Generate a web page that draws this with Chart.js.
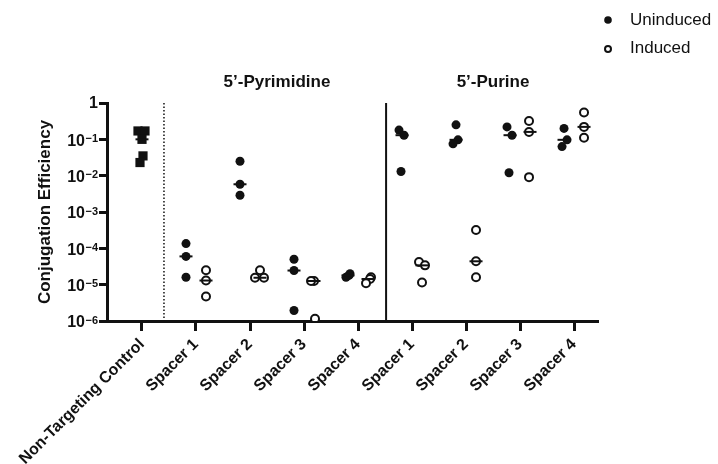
<!DOCTYPE html>
<html>
<head>
<meta charset="utf-8">
<script src="https://cdn.jsdelivr.net/npm/chart.js@4.4.1/dist/chart.umd.min.js"></script>
<style>
  html, body { margin: 0; padding: 0; background: #fff; }
  #wrap { width: 718px; height: 464px; position: relative; }
</style>
</head>
<body>
<div id="wrap"><canvas id="chart"></canvas></div>
<script>
// ============================================
// DATA
// ============================================
const categories = ['Non-Targeting Control', 'Spacer 1', 'Spacer 2', 'Spacer 3', 'Spacer 4',
                    'Spacer 1', 'Spacer 2', 'Spacer 3', 'Spacer 4'];
const groupTitles = ['5’-Pyrimidine', '5’-Purine'];
const seriesNames = ['Uninduced', 'Induced'];
const yTickExponents = [0, -1, -2, -3, -4, -5, -6];
const yTitle = 'Conjugation Efficiency';

// non-targeting control replicates
const controlValues = [0.17, 0.17, 0.1, 0.035, 0.023];

// spacers (5'-pyrimidine 1-4, then 5'-purine 1-4), three replicates each
const uninducedValues = [
    [1.35e-4, 6.0e-5, 1.6e-5],
    [0.025, 5.8e-3, 2.9e-3],
    [5.0e-5, 2.45e-5, 1.95e-6],
    [2.0e-5, 1.8e-5, 1.6e-5],
    [0.18, 0.13, 0.013],
    [0.25, 0.097, 0.075],
    [0.22, 0.13, 0.012],
    [0.2, 0.097, 0.063]
];
const inducedValues = [
    [2.5e-5, 1.3e-5, 4.7e-6],
    [2.5e-5, 1.55e-5, 1.55e-5],
    [1.26e-5, 1.26e-5, 1.15e-6],
    [1.6e-5, 1.43e-5, 1.1e-5],
    [4.2e-5, 3.4e-5, 1.15e-5],
    [3.2e-4, 4.4e-5, 1.6e-5],
    [0.32, 0.16, 0.0091],
    [0.55, 0.22, 0.11]
];

// ============================================
// LAYOUT (px offsets of points inside a column)
// ============================================
const PX_PER_CAT = 54;
const controlJitter = [-4, 3, 0, 1, -2];
const uninducedJitter = [
    [-10, -10, -10], [-10, -10, -10], [-10, -10, -10], [-8, -9, -12],
    [-13, -8, -11], [-10, -8, -13], [-13, -8, -11], [-10, -7, -12]
];
const inducedJitter = [
    [10, 10, 10], [10, 5, 14], [10, 7, 11], [13, 12, 8],
    [7, 13, 10], [10, 10, 10], [9, 9, 9], [10, 10, 10]
];
const MEDIAN_OFFSET = 10;
const X_MIN = -0.648, X_MAX = 8.444;
const DOTTED_AT = 0.407, SOLID_AT = 4.52;

const ink = '#111';
const fontFamily = '"Liberation Sans", Arial, Helvetica, sans-serif';
Chart.defaults.font.family = fontFamily;
Chart.defaults.color = ink;

const toX = (cat, px) => cat + px / PX_PER_CAT;
const median = arr => [...arr].sort((a, b) => a - b)[Math.floor(arr.length / 2)];

const controlPoints = controlValues.map((v, i) => ({ x: toX(0, controlJitter[i]), y: v }));
const uninducedPoints = [];
const inducedPoints = [];
const medianPoints = [{ x: 0, y: median(controlValues) }];
uninducedValues.forEach((reps, i) => {
    reps.forEach((v, j) => uninducedPoints.push({ x: toX(i + 1, uninducedJitter[i][j]), y: v }));
    medianPoints.push({ x: toX(i + 1, -MEDIAN_OFFSET), y: median(reps) });
});
inducedValues.forEach((reps, i) => {
    reps.forEach((v, j) => inducedPoints.push({ x: toX(i + 1, inducedJitter[i][j]), y: v }));
    medianPoints.push({ x: toX(i + 1, MEDIAN_OFFSET), y: median(reps) });
});

// titles, legend and superscript tick labels
const extras = {
    id: 'extras',
    afterDraw(chart) {
        const { ctx, scales: { x, y } } = chart;
        ctx.save();
        ctx.fillStyle = ink;
        ctx.strokeStyle = ink;

        const right = y.right - 9;
        yTickExponents.forEach(e => {
            const py = y.getPixelForValue(Math.pow(10, e));
            ctx.textAlign = 'right';
            if (e === 0) {
                ctx.font = 'bold 16px ' + fontFamily;
                ctx.textBaseline = 'middle';
                ctx.fillText('1', right, py + 1);
                return;
            }
            const exp = '−' + (-e);
            ctx.font = 'bold 11px ' + fontFamily;
            ctx.textBaseline = 'alphabetic';
            ctx.fillText(exp, right, py + 2.5);
            const w = ctx.measureText(exp).width;
            ctx.font = 'bold 16px ' + fontFamily;
            ctx.textBaseline = 'middle';
            ctx.fillText('10', right - w - 0.5, py + 2);
        });

        ctx.font = 'bold 17px ' + fontFamily;
        ctx.textAlign = 'center';
        ctx.textBaseline = 'middle';
        ctx.fillText(groupTitles[0], x.getPixelForValue(2.5), 82);
        ctx.fillText(groupTitles[1], x.getPixelForValue(6.5), 82);

        // legend
        ctx.font = '17px ' + fontFamily;
        ctx.textAlign = 'left';
        ctx.beginPath();
        ctx.arc(608, 20, 3.8, 0, Math.PI * 2);
        ctx.fill();
        ctx.fillText(seriesNames[0], 630, 20);
        ctx.beginPath();
        ctx.lineWidth = 2;
        ctx.arc(608, 49, 3, 0, Math.PI * 2);
        ctx.stroke();
        ctx.fillText(seriesNames[1], 630, 48.5);
        ctx.restore();
    }
};

new Chart(document.getElementById('chart'), {
    type: 'scatter',
    data: {
        datasets: [
            {
                label: 'Median',
                data: medianPoints,
                pointStyle: 'line',
                pointRadius: 6.5,
                borderColor: ink,
                borderWidth: 2,
                backgroundColor: ink
            },
            {
                label: seriesNames[0],
                data: uninducedPoints,
                pointStyle: 'circle',
                pointRadius: 4.5,
                backgroundColor: ink,
                borderColor: ink,
                borderWidth: 0
            },
            {
                label: seriesNames[1],
                data: inducedPoints,
                pointStyle: 'circle',
                pointRadius: 4,
                backgroundColor: '#fff',
                borderColor: ink,
                borderWidth: 2
            },
            {
                label: 'Control',
                data: controlPoints,
                pointStyle: 'rect',
                pointRadius: 6.5,
                backgroundColor: ink,
                borderColor: ink,
                borderWidth: 0
            },
            {
                label: 'divider-dotted',
                data: [{ x: DOTTED_AT, y: 1 }, { x: DOTTED_AT, y: 1e-6 }],
                showLine: true,
                pointRadius: 0,
                borderColor: ink,
                borderWidth: 1.5,
                borderDash: [1.5, 2]
            },
            {
                label: 'divider-solid',
                data: [{ x: SOLID_AT, y: 1 }, { x: SOLID_AT, y: 1e-6 }],
                showLine: true,
                pointRadius: 0,
                borderColor: ink,
                borderWidth: 2
            }
        ]
    },
    options: {
        responsive: true,
        maintainAspectRatio: false,
        animation: false,
        layout: { padding: { left: 0, right: 120, top: 103, bottom: 0 } },
        plugins: {
            legend: { display: false },
            tooltip: { enabled: false }
        },
        scales: {
            x: {
                type: 'linear',
                min: X_MIN,
                max: X_MAX,
                afterBuildTicks: s => { s.ticks = categories.map((c, i) => ({ value: i })); },
                afterFit: s => { s.height = 143; },
                ticks: {
                    autoSkip: false,
                    minRotation: 45,
                    maxRotation: 45,
                    padding: 4,
                    color: ink,
                    font: { size: 16, weight: 'bold' },
                    callback: v => categories[v]
                },
                grid: { drawOnChartArea: false, drawTicks: true, tickLength: 10, tickWidth: 3, color: ink },
                border: { display: true, width: 3, color: ink }
            },
            y: {
                type: 'logarithmic',
                min: 1e-6,
                max: 1,
                afterBuildTicks: s => { s.ticks = yTickExponents.map(e => ({ value: Math.pow(10, e) })); },
                afterFit: s => { s.width = 107; },
                ticks: { display: false },
                title: {
                    display: true,
                    text: yTitle,
                    color: ink,
                    font: { size: 17, weight: 'bold' },
                    padding: { top: 35, bottom: 0 }
                },
                grid: { drawOnChartArea: false, drawTicks: true, tickLength: 8, tickWidth: 3, color: ink },
                border: { display: true, width: 3, color: ink }
            }
        }
    },
    plugins: [extras]
});
</script>
</body>
</html>
